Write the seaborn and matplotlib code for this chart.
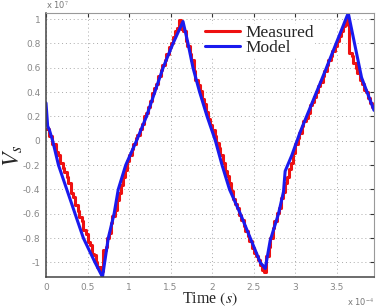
import numpy as np
import pandas as pd
import seaborn as sns
import matplotlib.pyplot as plt

# time in units of 1e-4 s
model_t = [0.00, 0.02, 0.04, 0.08, 0.15, 0.25, 0.35, 0.45, 0.59, 0.68,
           0.75, 0.82, 0.87, 0.96, 1.09, 1.21, 1.31, 1.41, 1.53, 1.65,
           1.71, 1.77, 1.85, 1.94, 2.04, 2.12, 2.21, 2.34, 2.46, 2.58, 2.64,
           2.70, 2.80, 2.86, 2.88, 2.96, 3.06, 3.36, 3.64,
           3.80, 3.95]
model_v = [0.31, 0.12, 0.09, 0.00, -0.20, -0.40, -0.60, -0.80, -1.00, -1.12,
           -0.80, -0.60, -0.40, -0.20, 0.00, 0.20, 0.40, 0.60, 0.80, 0.98,
           0.80, 0.60, 0.40, 0.20, 0.00, -0.20, -0.40, -0.60, -0.80, -1.00, -1.05,
           -0.82, -0.60, -0.42, -0.25, -0.12, 0.07, 0.57, 1.05,
           0.52, 0.25]

meas_t = [0.00, 0.02, 0.03, 0.06, 0.07, 0.10, 0.12, 0.15, 0.17, 0.20,
          0.22, 0.25, 0.27, 0.30, 0.33, 0.35, 0.38, 0.40, 0.43, 0.45,
          0.48, 0.50, 0.53, 0.55, 0.58, 0.60, 0.62, 0.66, 0.68, 0.685,
          0.72, 0.74, 0.76, 0.78, 0.80, 0.83, 0.85, 0.88, 0.90, 0.93,
          0.95, 0.98, 1.00, 1.03, 1.05, 1.08, 1.10, 1.13, 1.15, 1.18,
          1.20, 1.23, 1.25, 1.28, 1.30, 1.33, 1.35, 1.38, 1.40, 1.43,
          1.45, 1.48, 1.50, 1.53, 1.55, 1.58, 1.60, 1.62, 1.63, 1.65,
          1.68, 1.70, 1.73, 1.75, 1.78, 1.80, 1.83, 1.85, 1.88, 1.90,
          1.93, 1.95, 1.98, 2.00, 2.03, 2.05, 2.08, 2.10, 2.13, 2.15,
          2.18, 2.20, 2.23, 2.25, 2.28, 2.30, 2.33, 2.35, 2.38, 2.40,
          2.43, 2.45, 2.48, 2.50, 2.53, 2.55, 2.58, 2.60, 2.62, 2.64,
          2.65, 2.68, 2.70, 2.73, 2.75, 2.78, 2.80, 2.83, 2.85, 2.88,
          2.90, 2.93, 2.95, 2.98, 3.00, 3.03, 3.05, 3.08, 3.10, 3.13,
          3.15, 3.18, 3.20, 3.23, 3.25, 3.28, 3.30, 3.33, 3.35, 3.38,
          3.40, 3.43, 3.45, 3.48, 3.50, 3.53, 3.55, 3.58, 3.60, 3.62,
          3.64, 3.65, 3.68, 3.70, 3.73, 3.75, 3.78, 3.80, 3.83, 3.85,
          3.88, 3.90, 3.93, 3.95]
meas_v = [0.10, 0.10, 0.04, 0.04, -0.03, -0.03, -0.09, -0.12, -0.18, -0.22,
          -0.26, -0.30, -0.35, -0.43, -0.46, -0.53, -0.58, -0.63, -0.66, -0.73,
          -0.77, -0.83, -0.86, -0.93, -0.94, -1.00, -1.04, -1.07, -1.07, -0.90,
          -0.87, -0.80, -0.76, -0.68, -0.62, -0.57, -0.49, -0.43, -0.36, -0.30,
          -0.24, -0.17, -0.12, -0.07, -0.03, 0.02, 0.05, 0.10, 0.14, 0.20,
          0.23, 0.28, 0.33, 0.39, 0.43, 0.47, 0.53, 0.58, 0.62, 0.66,
          0.71, 0.77, 0.80, 0.85, 0.90, 0.93, 0.99, 0.97, 0.92, 0.90,
          0.82, 0.78, 0.71, 0.66, 0.57, 0.50, 0.46, 0.41, 0.34, 0.30,
          0.24, 0.18, 0.13, 0.09, 0.04, -0.02, -0.06, -0.12, -0.18, -0.25,
          -0.29, -0.35, -0.41, -0.48, -0.52, -0.55, -0.61, -0.65, -0.70, -0.74,
          -0.78, -0.82, -0.88, -0.92, -0.95, -0.98, -1.02, -1.06, -1.08, -1.08,
          -0.95, -0.87, -0.80, -0.72, -0.66, -0.59, -0.55, -0.47, -0.42, -0.35,
          -0.30, -0.23, -0.18, -0.10, -0.03, 0.02, 0.06, 0.12, 0.16, 0.19,
          0.23, 0.29, 0.32, 0.36, 0.40, 0.45, 0.48, 0.53, 0.57, 0.62,
          0.66, 0.70, 0.74, 0.78, 0.82, 0.86, 0.90, 0.94, 0.98, 1.00,
          0.95, 0.72, 0.70, 0.64, 0.60, 0.56, 0.50, 0.47, 0.42, 0.40,
          0.35, 0.31, 0.28, 0.26]

x_ticks = [0, 0.5, 1, 1.5, 2, 2.5, 3, 3.5]
x_labels = ["0", "0.5", "1", "1.5", "2", "2.5", "3", "3.5"]
y_ticks = [1, 0.8, 0.6, 0.4, 0.2, 0, -0.2, -0.4, -0.6, -0.8, -1]
y_labels = ["1", "0.8", "0.6", "0.4", "0.2", "0", "-0.2", "-0.4", "-0.6", "-0.8", "-1"]

meas = pd.DataFrame({"t": meas_t, "v": meas_v})
model = pd.DataFrame({"t": model_t, "v": model_v})

sns.set_style("white")
plt.rcParams["mathtext.fontset"] = "stix"

fig = plt.figure(figsize=(3.79, 3.07), dpi=100)
ax = fig.add_axes([0.1214, 0.0977, 0.8654, 0.86])

sns.lineplot(data=meas, x="t", y="v", ax=ax, color="#ee1111", lw=2.2,
             drawstyle="steps-post", label="Measured", estimator=None, sort=False)
sns.lineplot(data=model, x="t", y="v", ax=ax, color="#1a1aee", lw=2.2,
             label="Model", estimator=None, sort=False)

ax.set_xlim(0, 3.95)
ax.set_ylim(-1.12, 1.05)
ax.set_xticks(x_ticks)
ax.set_xticklabels(x_labels)
ax.set_yticks(y_ticks)
ax.set_yticklabels(y_labels)
ax.tick_params(direction="in", length=3, width=0.8, colors="#333333",
               labelcolor="#888888", labelsize=6.5, top=True, right=True, pad=4)
ax.grid(True, linestyle=(0, (1, 3)), color="#aaaaaa", lw=0.7)
for s in ["left", "bottom"]:
    ax.spines[s].set_color("#444444")
    ax.spines[s].set_linewidth(1.1)
for s in ["top", "right"]:
    ax.spines[s].set_color("#999999")
    ax.spines[s].set_linewidth(0.8)

ax.set_xlabel("Time $(s)$", family="Liberation Serif", fontsize=11.5)
ax.xaxis.set_label_coords(0.5, -0.05, transform=ax.transAxes)
ax.xaxis.label.set_va("top")
ax.set_ylabel("$V_s$", fontsize=17)
ax.yaxis.set_label_coords(-0.1, 0.46)
ax.yaxis.label.set_ha("center")
ax.yaxis.label.set_va("center")

ax.text(0.0, 1.008, r"x 10$^{7}$", transform=ax.transAxes, fontsize=6,
        color="#777777", va="bottom")
ax.text(1.0, -0.075, r"x 10$^{-4}$", transform=ax.transAxes, fontsize=6,
        color="#777777", ha="right", va="top")

leg = ax.legend(loc="upper left", bbox_to_anchor=(0.48, 0.96), frameon=True,
                prop={"family": "Liberation Serif", "size": 12.5},
                handlelength=2.0, handletextpad=0.3, labelspacing=-0.1,
                borderpad=0.1, borderaxespad=0)
leg.get_frame().set_edgecolor("none")
leg.get_frame().set_facecolor("white")
leg.get_frame().set_alpha(1)

fig.savefig("out.png", dpi=100)
